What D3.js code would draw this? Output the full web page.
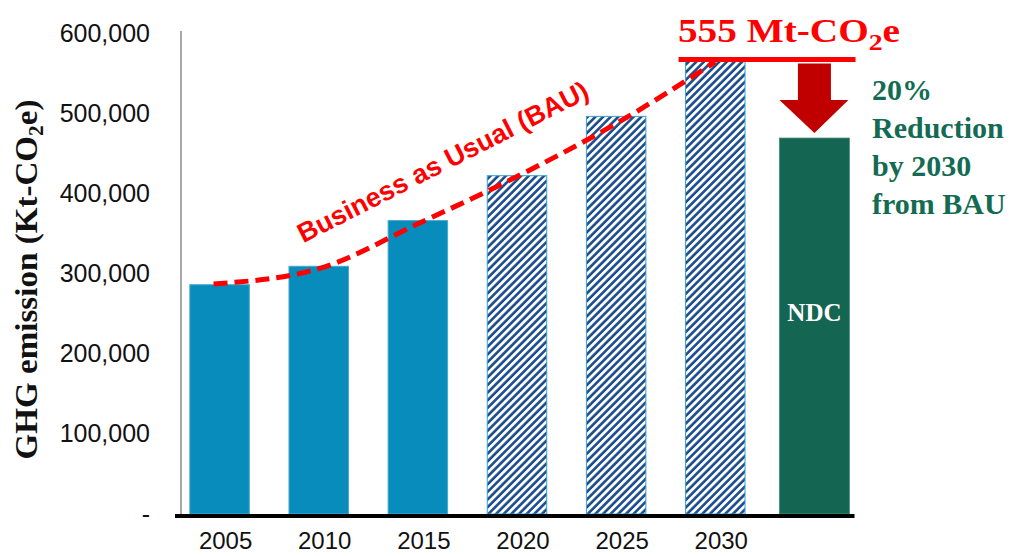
<!DOCTYPE html>
<html>
<head>
<meta charset="utf-8">
<script src="https://cdn.jsdelivr.net/npm/d3@7"></script>
<style>
  body { margin: 0; background: #fff; }
  svg { display: block; }
</style>
</head>
<body>
<div id="chart"></div>
<script>
// data
const years = ["2005", "2010", "2015", "2020", "2025", "2030"];
const categories = [...years, "NDC"];
const emissions = [286000, 309000, 366000, 422000, 496000, 567000];
const projected = [false, false, false, true, true, true];
const ndcValue = 469000;
const bauValues = [287000, 306000, 362000, 421000, 487000, 564000];
const yTicks = [0, 100000, 200000, 300000, 400000, 500000, 600000];

const width = 1017, height = 556;

const svg = d3.select("#chart")
    .append("svg")
    .attr("width", width)
    .attr("height", height);

const defs = svg.append("defs");
const hatch = defs.append("pattern")
    .attr("id", "hatch")
    .attr("patternUnits", "userSpaceOnUse")
    .attr("width", 5.4)
    .attr("height", 10)
    .attr("patternTransform", "rotate(45)");
hatch.append("rect").attr("width", 5.4).attr("height", 10).attr("fill", "#fff");
hatch.append("line")
    .attr("x1", 1.4).attr("x2", 1.4)
    .attr("y1", 0).attr("y2", 10)
    .attr("stroke", "#1a4c8c")
    .attr("stroke-width", 2.6);

const x = d3.scaleBand()
    .domain(categories)
    .range([170, 864])
    .paddingInner(0.4)
    .paddingOuter(0.2);

const y = d3.scaleLinear()
    .domain([0, 600000])
    .range([514, 33]);

const bw = x.bandwidth();

// y axis (labels only) + thin grey line
const yAxis = d3.axisLeft(y)
    .tickValues(yTicks)
    .tickSize(0)
    .tickPadding(31)
    .tickFormat(d => d === 0 ? "-" : d3.format(",")(d));

const gy = svg.append("g")
    .attr("transform", "translate(181,0)")
    .call(yAxis);
gy.select(".domain").remove();
gy.selectAll("text")
    .attr("font-family", "Liberation Sans, Arial, sans-serif")
    .attr("font-size", 25)
    .attr("fill", "#111");

svg.append("line")
    .attr("x1", 181).attr("x2", 181)
    .attr("y1", y(600000) - 2).attr("y2", y(0))
    .attr("stroke", "#8a8a8a")
    .attr("stroke-width", 1.5);

// y title
svg.append("text")
    .attr("transform", `translate(37,${(y(0) + y(600000)) / 2 + 6}) rotate(-90)`)
    .attr("text-anchor", "middle")
    .attr("font-family", "Liberation Serif, Times New Roman, serif")
    .attr("font-weight", "bold")
    .attr("font-size", 31)
    .attr("fill", "#111")
    .attr("textLength", 360)
    .attr("lengthAdjust", "spacingAndGlyphs")
    .call(t => {
        t.append("tspan").text("GHG emission (Kt-CO");
        t.append("tspan").attr("font-size", 20).attr("dy", 6).text("2");
        t.append("tspan").attr("dy", -6).text("e)");
    });

// bars
svg.selectAll(".bar")
    .data(emissions)
    .join("rect")
    .attr("class", "bar")
    .attr("x", (d, i) => x(years[i]))
    .attr("width", bw)
    .attr("y", d => y(d))
    .attr("height", d => y(0) - y(d))
    .attr("fill", (d, i) => projected[i] ? "url(#hatch)" : "#088cbc")
    .attr("stroke", (d, i) => projected[i] ? "#35a2d2" : "#4aa8cf")
    .attr("stroke-width", 1);

// NDC bar (a bit wider)
const ndcW = bw * 1.18;
const ndcX = x("NDC") + bw / 2 - ndcW / 2;
svg.append("rect")
    .attr("x", ndcX)
    .attr("width", ndcW)
    .attr("y", y(ndcValue))
    .attr("height", y(0) - y(ndcValue))
    .attr("fill", "#146652")
    .attr("stroke", "#4f8f7e")
    .attr("stroke-width", 0.8);

svg.append("text")
    .attr("x", x("NDC") + bw / 2)
    .attr("y", 321)
    .attr("text-anchor", "middle")
    .attr("font-family", "Liberation Serif, Times New Roman, serif")
    .attr("font-weight", "bold")
    .attr("font-size", 25)
    .attr("fill", "#fff")
    .text("NDC");

// x axis thick line + labels
svg.append("line")
    .attr("x1", 175).attr("x2", ndcX + ndcW + 5)
    .attr("y1", y(0) + 2).attr("y2", y(0) + 2)
    .attr("stroke", "#000")
    .attr("stroke-width", 4);

svg.selectAll(".xlab")
    .data(years)
    .join("text")
    .attr("class", "xlab")
    .attr("x", d => x(d) + bw / 2 + 6)
    .attr("y", 549)
    .attr("text-anchor", "middle")
    .attr("font-family", "Liberation Sans, Arial, sans-serif")
    .attr("font-size", 24)
    .attr("fill", "#111")
    .text(d => d);

// BAU dashed curve
const bauLine = d3.line()
    .x((d, i) => x(years[i]) + bw / 2 - (i === 0 ? 6 : 0))
    .y(d => y(d))
    .curve(d3.curveMonotoneX);

svg.append("path")
    .datum(bauValues)
    .attr("d", bauLine)
    .attr("fill", "none")
    .attr("stroke", "#ff0000")
    .attr("stroke-width", 5)
    .attr("stroke-dasharray", "14,7");

svg.append("text")
    .attr("transform", "translate(443,162) rotate(-27)")
    .attr("text-anchor", "middle")
    .attr("dominant-baseline", "central")
    .attr("font-family", "Liberation Sans, Arial, sans-serif")
    .attr("font-weight", "bold")
    .attr("font-size", 27)
    .attr("fill", "#ff0000")
    .text("Business as Usual (BAU)");

// 555 Mt-CO2e annotation
const topY = y(emissions[5]);
svg.append("line")
    .attr("x1", x("2030") - 7).attr("x2", ndcX + ndcW + 6)
    .attr("y1", topY).attr("y2", topY)
    .attr("stroke", "#ff0000")
    .attr("stroke-width", 5);

svg.append("text")
    .attr("x", 678)
    .attr("y", 42)
    .attr("font-family", "Liberation Serif, Times New Roman, serif")
    .attr("font-weight", "bold")
    .attr("font-size", 34)
    .attr("fill", "#ff0000")
    .attr("textLength", 222)
    .attr("lengthAdjust", "spacingAndGlyphs")
    .call(t => {
        t.append("tspan").text("555 Mt-CO");
        t.append("tspan").attr("font-size", 24).attr("dy", 8).text("2");
        t.append("tspan").attr("dy", -8).text("e");
    });

// reduction arrow
const ax = x("NDC") + bw / 2;
const arrow = d3.path();
arrow.moveTo(ax - 16.5, topY + 4);
arrow.lineTo(ax + 16.5, topY + 4);
arrow.lineTo(ax + 16.5, 100);
arrow.lineTo(ax + 34, 100);
arrow.lineTo(ax, 133);
arrow.lineTo(ax - 35, 100);
arrow.lineTo(ax - 16.5, 100);
arrow.closePath();
svg.append("path")
    .attr("d", arrow.toString())
    .attr("fill", "#c00000");

svg.append("g")
    .selectAll("text")
    .data(["20%", "Reduction", "by 2030", "from BAU"])
    .join("text")
    .attr("x", 872)
    .attr("y", (d, i) => 100 + i * 38)
    .attr("font-family", "Liberation Serif, Times New Roman, serif")
    .attr("font-weight", "bold")
    .attr("font-size", 30)
    .attr("fill", "#146b53")
    .text(d => d);
</script>
</body>
</html>
